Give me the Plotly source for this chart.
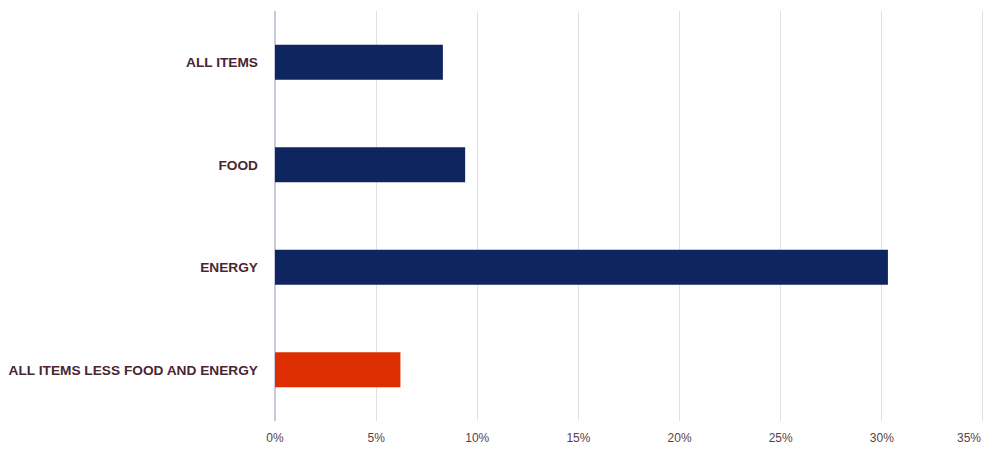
import plotly.graph_objects as go

categories = ["ALL ITEMS", "FOOD", "ENERGY", "ALL ITEMS LESS FOOD AND ENERGY"]
values = [8.3, 9.4, 30.3, 6.2]
bar_colors = ["#0f2560", "#0f2560", "#0f2560", "#dc2e00"]
tick_vals = [0, 5, 10, 15, 20, 25, 30, 35]
tick_text = ["0%", "5%", "10%", "15%", "20%", "25%", "30%", ""]
last_tick_label = "35%"

fig = go.Figure(go.Bar(
    y=categories, x=values, orientation="h",
    marker=dict(color=bar_colors, line=dict(width=0)),
    width=0.34,
))
fig.update_layout(
    width=1000, height=451,
    margin=dict(l=267, r=24, t=3, b=38, autoexpand=False),
    plot_bgcolor="white", paper_bgcolor="white",
    showlegend=False,
    font=dict(family="Liberation Sans, Arial", color="#4d2f38"),
)
fig.update_xaxes(
    range=[0, 35.05], tickvals=tick_vals, ticktext=tick_text,
    showgrid=True, gridcolor="#e0dfe6", gridwidth=1,
    zeroline=True, zerolinecolor="#c9c9dc", zerolinewidth=2,
    tickfont=dict(size=12, color="#5a3f48"),
    ticks="", ticklabelstandoff=8, automargin=False,
)
fig.update_yaxes(
    categoryorder="array", categoryarray=categories[::-1],
    range=[-0.5, 3.5],
    tickfont=dict(size=13.7, color="#4a2632", family="Liberation Sans, Arial", weight="bold"),
    ticks="", ticklabelstandoff=16, automargin=False,
)
fig.add_annotation(
    x=35, y=0, xref="x", yref="paper", text=last_tick_label,
    showarrow=False, xanchor="right", yanchor="top", xshift=0, yshift=-8,
    font=dict(size=12, color="#5a3f48"),
)
fig.write_html("out.html")
